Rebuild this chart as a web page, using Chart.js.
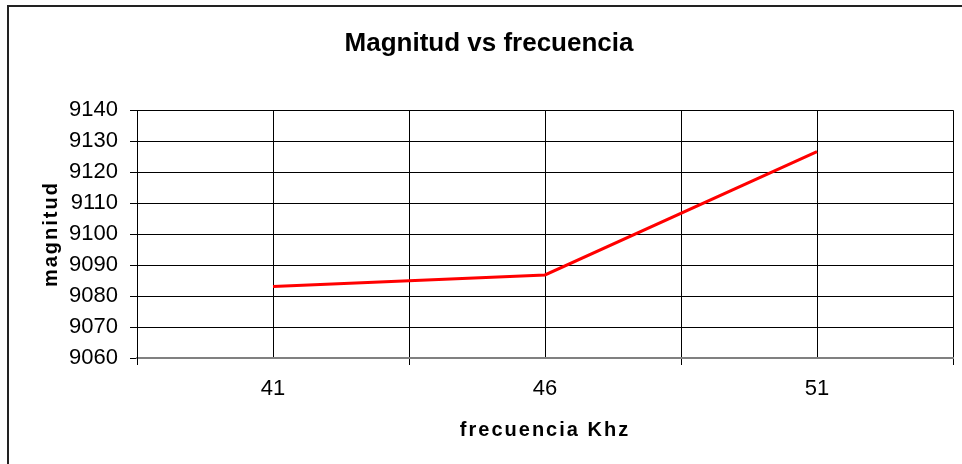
<!DOCTYPE html>
<html>
<head>
<meta charset="utf-8">
<script src="https://cdn.jsdelivr.net/npm/chart.js@4/dist/chart.umd.min.js"></script>
<style>
  html, body { margin: 0; padding: 0; background: #fff; overflow: hidden; }
  #wrap { position: relative; width: 962px; height: 464px; }
  #frame { position: absolute; left: 7px; top: 5px; width: 970px; height: 470px;
           border-left: 2px solid #222; border-top: 2px solid #222; pointer-events: none; }
  canvas { position: absolute; left: 0; top: 0; }
</style>
</head>
<body>
<div id="wrap">
  <canvas id="c" width="962" height="464"></canvas>
  <div id="frame"></div>
</div>
<script>
const categories = ['41', '46', '51'];
const magnitud = [9083.1, 9086.8, 9126.6];
const yMin = 9060, yMax = 9140, yStep = 10;
const chartTitle = 'Magnitud vs frecuencia';
const xTitle = 'frecuencia Khz';
const yTitle = 'magnitud';

const FONT = "'Liberation Sans', Arial, sans-serif";

const titleSpacing = {
  id: 'titleSpacing',
  afterLayout(chart) {
    if (chart.titleBlock) {
      chart.titleBlock.left = 25;
      chart.titleBlock.right = 953;
    }
  },
  beforeDraw(chart) {
    ['x', 'y'].forEach(id => {
      const s = chart.scales[id];
      if (s && !s._spaced) {
        const orig = s.drawTitle.bind(s);
        s.drawTitle = function () {
          const ctx = this.ctx;
          ctx.save();
          ctx.letterSpacing = '2px';
          orig();
          ctx.restore();
        };
        s._spaced = true;
      }
    });
  }
};

new Chart(document.getElementById('c'), {
  type: 'line',
  data: {
    labels: categories,
    datasets: [{
      data: magnitud,
      borderColor: '#ff0000',
      borderWidth: 3,
      pointRadius: 0,
      tension: 0,
      fill: false,
      xAxisID: 'x',
      yAxisID: 'y'
    }]
  },
  options: {
    responsive: false,
    animation: false,
    layout: { padding: { left: 0, right: 9, top: 0, bottom: 0 } },
    plugins: {
      legend: { display: false },
      tooltip: { enabled: false },
      title: {
        display: true,
        text: chartTitle,
        color: '#000',
        font: { family: FONT, size: 26, weight: 'bold' },
        padding: { top: 28, bottom: 51 }
      }
    },
    scales: {
      x: {
        type: 'category',
        position: 'bottom',
        offset: true,
        grid: {
          offset: true,
          color: (c) => (c.index === categories.length ? '#808080' : '#000'),
          lineWidth: 1,
          drawTicks: true,
          tickLength: 7,
          tickColor: '#000'
        },
        border: { display: true, color: '#808080', width: 2 },
        ticks: {
          color: '#000',
          padding: 11,
          font: { family: FONT, size: 22 },
          maxRotation: 0
        },
        title: {
          display: true,
          text: xTitle,
          color: '#000',
          font: { family: FONT, size: 20, weight: 'bold' },
          padding: { top: 15, bottom: 22 }
        },
        afterFit: (s) => { s.height = 106; }
      },
      x2: {
        type: 'category',
        position: 'bottom',
        offset: true,
        labels: categories,
        grid: { offset: false, color: '#000', lineWidth: 1, drawTicks: false },
        border: { display: false },
        ticks: { display: false },
        title: { display: false },
        afterFit: (s) => { s.height = 0; }
      },
      y: {
        type: 'linear',
        position: 'left',
        min: yMin,
        max: yMax,
        grid: {
          color: '#000',
          lineWidth: 1,
          drawTicks: true,
          tickLength: 7,
          tickColor: '#000'
        },
        border: { display: true, color: '#000', width: 1 },
        ticks: {
          stepSize: yStep,
          color: '#000',
          padding: 12,
          font: { family: FONT, size: 22 },
          callback: (v) => String(v)
        },
        title: {
          display: true,
          text: yTitle,
          color: '#000',
          font: { family: FONT, size: 20, weight: 'bold' },
          padding: { top: 39, bottom: 0 }
        },
        afterFit: (s) => { s.width = 137; }
      }
    }
  },
  plugins: [titleSpacing]
});
</script>
</body>
</html>
